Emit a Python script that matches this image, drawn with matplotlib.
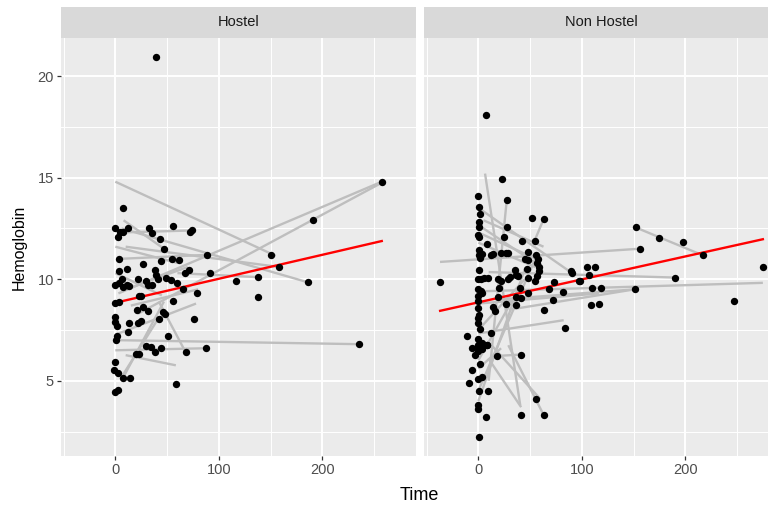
import numpy as np
import matplotlib
matplotlib.use("Agg")
import matplotlib.pyplot as plt

plt.rcParams['font.family'] = ['Liberation Sans', 'DejaVu Sans']

panels = ["Hostel", "Non Hostel"]

# observed hemoglobin by time
hostel_time = [7.3, 0, 5, 7, 3, 12.5, 32.5, 35, 56, 43, 74.5, 72.6, 47, 3.4, 89, 44, 54.5, 61.7,
               26.4, 3.4, 11.5, 38, 39.6, 41, 71.4, 67.5, 91.4, 49, 54, 60, 21.5, 6.6, 0, 4, 11.5,
               7.6, 13, 29.3, 32, 35.7, 117, 65, 78.5, 23, 25, 0, 3.4, 56, 20.6, 26.7, 32, 46, 48,
               76, 42, 0, 0, 1.5, 13, 21.5, 24.8, 12.4, 2, 1, 50.6, 29.3, 34.5, 38.4, 44, 19.6,
               22.8, 68, 87.5, 0, -1, 3, 7.6, 13.8, 0, 3, 59, 257.5, 191.5, 150.7, 158.4, 138.3,
               138.3, 186.6, 235.7, 39.3]
hostel_hb = [13.5, 12.5, 12.3, 12.3, 12.1, 12.5, 12.5, 12.25, 12.6, 12.0, 12.4, 12.3, 11.5, 11.0,
             11.2, 10.9, 11.0, 10.94, 10.74, 10.4, 10.5, 10.44, 10.2, 10.0, 10.44, 10.3, 10.3,
             10.08, 9.95, 9.82, 10.03, 10.03, 9.7, 9.8, 9.7, 9.6, 9.65, 9.92, 9.72, 9.72, 9.92,
             9.54, 9.3, 9.16, 9.16, 8.83, 8.87, 8.93, 8.47, 8.64, 8.44, 8.39, 8.28, 8.03, 8.03,
             8.14, 7.88, 7.68, 7.85, 7.82, 7.92, 7.39, 7.19, 7.0, 7.19, 6.7, 6.67, 6.42, 6.6, 6.3,
             6.3, 6.42, 6.6, 5.9, 5.55, 5.4, 5.14, 5.14, 4.45, 4.53, 4.83, 14.8, 12.92, 11.18,
             10.6, 10.1, 9.13, 9.84, 6.8, 20.94]

nonhostel_time = [7.4, 22.6, -0.7, 27.5, 0.7, 2, 0.7, 0.7, -0.7, 0.7, 51.7, 63, 27.5, 25.2, 42.7,
                  54.4, 8.4, 0.7, 3.2, 0.7, 14.6, 22, 26.5, 28.4, 48, 56, 57.5, 48, 56.6, 58.3,
                  58.3, 57, 55, 48, 47.3, 45, 1.6, 12.3, 0.7, 2.6, 0, 5.8, 9.7, 18.8, 20, 22, 29,
                  30.8, 35, 36.2, 38.8, -36.9, 0, 2.6, 3.9, 0, 0, 18.8, 26.5, 36.2, 40.5, 41.4,
                  36.2, 47.9, 14.6, 16.2, 0, 0.7, -0.7, 0, 1.6, 12.3, -11.4, 0, 3.9, 8, 0, 63, 68,
                  72.5, 72.8, -5.8, -0.7, 3.2, 8, -3.2, 0, 17.8, 41.4, 1.6, -5.8, 0, 3.2, -9, 0.7,
                  9.7, -0.7, 0, 7, 41.4, 63, 55.6, 0.7, 83.5, 81.9, 97, 105, 113, 106.8, 110,
                  108.7, 116.5, 89.6, 90.6, 119, 152, 174.8, 197.8, 156, 216.8, 98.7, 275, 190,
                  151, 247]
nonhostel_hb = [18.08, 14.93, 14.09, 13.9, 13.53, 13.2, 12.82, 12.58, 12.18, 12.08, 12.99, 12.94,
                12.55, 12.08, 11.89, 11.89, 11.72, 11.46, 11.23, 11.18, 11.23, 11.3, 11.3, 11.3,
                11.33, 11.17, 11.0, 10.94, 10.8, 10.6, 10.4, 10.16, 9.9, 10.06, 10.5, 11.0, 11.02,
                11.18, 10.44, 10.03, 10.03, 10.06, 10.06, 10.0, 9.57, 9.9, 10.0, 10.1, 10.44,
                10.23, 10.16, 9.84, 9.54, 9.41, 9.34, 9.18, 8.92, 9.13, 8.8, 8.72, 9.57, 9.08,
                9.13, 9.34, 8.64, 8.42, 8.56, 8.26, 8.09, 7.82, 7.54, 7.33, 7.2, 7.04, 6.88, 6.78,
                6.78, 8.47, 9.54, 9.0, 9.87, 6.62, 6.67, 6.55, 6.75, 6.26, 6.45, 6.22, 6.29, 5.8,
                5.52, 5.1, 5.19, 4.89, 4.5, 4.5, 3.8, 3.63, 3.22, 3.33, 3.33, 4.12, 2.23, 7.59,
                9.38, 9.9, 10.6, 10.6, 10.2, 9.57, 8.75, 8.8, 10.41, 10.3, 9.57, 12.55, 12.02,
                11.84, 11.51, 11.18, 9.92, 10.6, 10.08, 9.5, 8.93]

# per-subject fitted trajectories: start time, start Hb, end time, end Hb
hostel_fit_t0 = [0, 6, 3, 22, 5, 3.4, 1.7, 0, 0, 10, 5, 42, 8, 8, 60, 10, 0, 10, 0, 15]
hostel_fit_y0 = [14.8, 12.5, 9.3, 8.3, 12.3, 11.0, 7.3, 7.0, 6.5, 6.26, 5.1, 8.9, 5.2, 12.9, 10.3, 11.6,
                 11.6, 9.5, 10.3, 8.7]
hostel_fit_t1 = [155, 186.6, 257.5, 257.5, 74.5, 89, 78, 235.7, 87.5, 58.5, 42, 68, 47, 47, 138.3, 158.4,
                 60, 70, 45, 80]
hostel_fit_y1 = [11.15, 9.84, 14.8, 14.75, 12.4, 11.2, 8.8, 6.8, 6.6, 5.76, 8.1, 6.4, 8.9, 11.5, 10.1, 10.6,
                 10.8, 10.6, 9.2, 9.5]

nonhostel_fit_t0 = [6.5, 27.5, 63, 3.2, 2, -37, 152, 10, 0, 20, 30, 17.8, 9.7, 29, 0, 0, 0, 0,
                    0, 0, 5, 0, 0, 10, 0]
nonhostel_fit_y0 = [15.2, 13.9, 12.94, 13.4, 12.6, 10.85, 12.55, 10.35, 9.4, 9.0, 8.5, 6.22, 6.1, 6.75,
                    7.33, 8.8, 4.5, 4.0, 12.3, 11.8, 12.9, 7.5, 6.0, 6.9, 5.6]
nonhostel_fit_t1 = [40.5, 10, 54.4, 90.6, 58, 156, 216.8, 190, 275, 151, 151, 41.4, 41.4, 63, 82.5,
                    116.5, 55, 45, 60, 55, 63, 45, 40, 60, 22]
nonhostel_fit_y1 = [3.8, 5.0, 11.9, 10.3, 10.7, 11.5, 11.18, 10.08, 9.82, 9.5, 9.5, 6.29, 3.7, 3.33,
                    7.98, 9.3, 11.0, 10.5, 10.9, 10.6, 11.6, 10.0, 9.6, 4.1, 6.6]

# population trend (intercept, slope) per panel
trend_intercept = [8.84, 8.86]
trend_slope = [0.0118, 0.0113]

times = [hostel_time, nonhostel_time]
hbs = [hostel_hb, nonhostel_hb]
fits = [(hostel_fit_t0, hostel_fit_y0, hostel_fit_t1, hostel_fit_y1),
        (nonhostel_fit_t0, nonhostel_fit_y0, nonhostel_fit_t1, nonhostel_fit_y1)]

W, H = 768, 508
fig = plt.figure(figsize=(W / 100, H / 100), dpi=100)

panel_w = 355
panel_lefts = [61, 424]
panel_top, panel_bottom = 38, 456
strip_top = 7

all_t = np.concatenate([hostel_time, nonhostel_time])
all_y = np.concatenate([hostel_hb, nonhostel_hb])
xr = all_t.max() - all_t.min()
yr = all_y.max() - all_y.min()
xlim = (all_t.min() - 0.05 * xr, all_t.max() + 0.05 * xr)
ylim = (all_y.min() - 0.05 * yr, all_y.max() + 0.05 * yr)

bg = "#EBEBEB"
for i, name in enumerate(panels):
    left = panel_lefts[i]
    ax = fig.add_axes([left / W, 1 - panel_bottom / H, panel_w / W, (panel_bottom - panel_top) / H])
    ax.set_facecolor(bg)
    ax.set_xlim(xlim)
    ax.set_ylim(ylim)
    for s in ax.spines.values():
        s.set_visible(False)
    ax.set_xticks([0, 100, 200])
    ax.set_xticks([-50, 50, 150, 250], minor=True)
    ax.set_yticks([5, 10, 15, 20])
    ax.set_yticks([2.5, 7.5, 12.5, 17.5], minor=True)
    ax.grid(True, which="major", color="white", linewidth=1.4)
    ax.grid(True, which="minor", color="white", linewidth=0.7)
    ax.set_axisbelow(True)
    ax.tick_params(which="minor", length=0)
    ax.tick_params(which="major", length=2.7, width=0.9, color="#333333",
                   labelsize=10.5, labelcolor="#4D4D4D", pad=2.5)
    if i > 0:
        ax.tick_params(axis="y", left=False, labelleft=False)

    t0, y0, t1, y1 = fits[i]
    for a, b, c, d in zip(t0, y0, t1, y1):
        ax.plot([a, c], [b, d], color="#BEBEBE", linewidth=1.7, solid_capstyle="butt", zorder=2)

    tt = np.array(times[i])
    tline = np.array([tt.min(), tt.max()])
    ax.plot(tline, trend_intercept[i] + trend_slope[i] * tline, color="red", linewidth=1.7, zorder=3)

    ax.scatter(times[i], hbs[i], s=28, color="black", linewidths=0, zorder=4)

    sax = fig.add_axes([left / W, 1 - panel_top / H, panel_w / W, (panel_top - strip_top) / H])
    sax.set_facecolor("#D9D9D9")
    sax.set_xticks([])
    sax.set_yticks([])
    for s in sax.spines.values():
        s.set_visible(False)
    sax.text(0.5, 0.5, name, ha="center", va="center", fontsize=10.5, color="#1A1A1A",
             transform=sax.transAxes)

fig.text(419 / W, 1 - 495 / H, "Time", ha="center", va="center", fontsize=13)
fig.text(19 / W, 1 - 247 / H, "Hemoglobin", ha="center", va="center", rotation=90, fontsize=11.5)

fig.savefig("out.png", dpi=100)
